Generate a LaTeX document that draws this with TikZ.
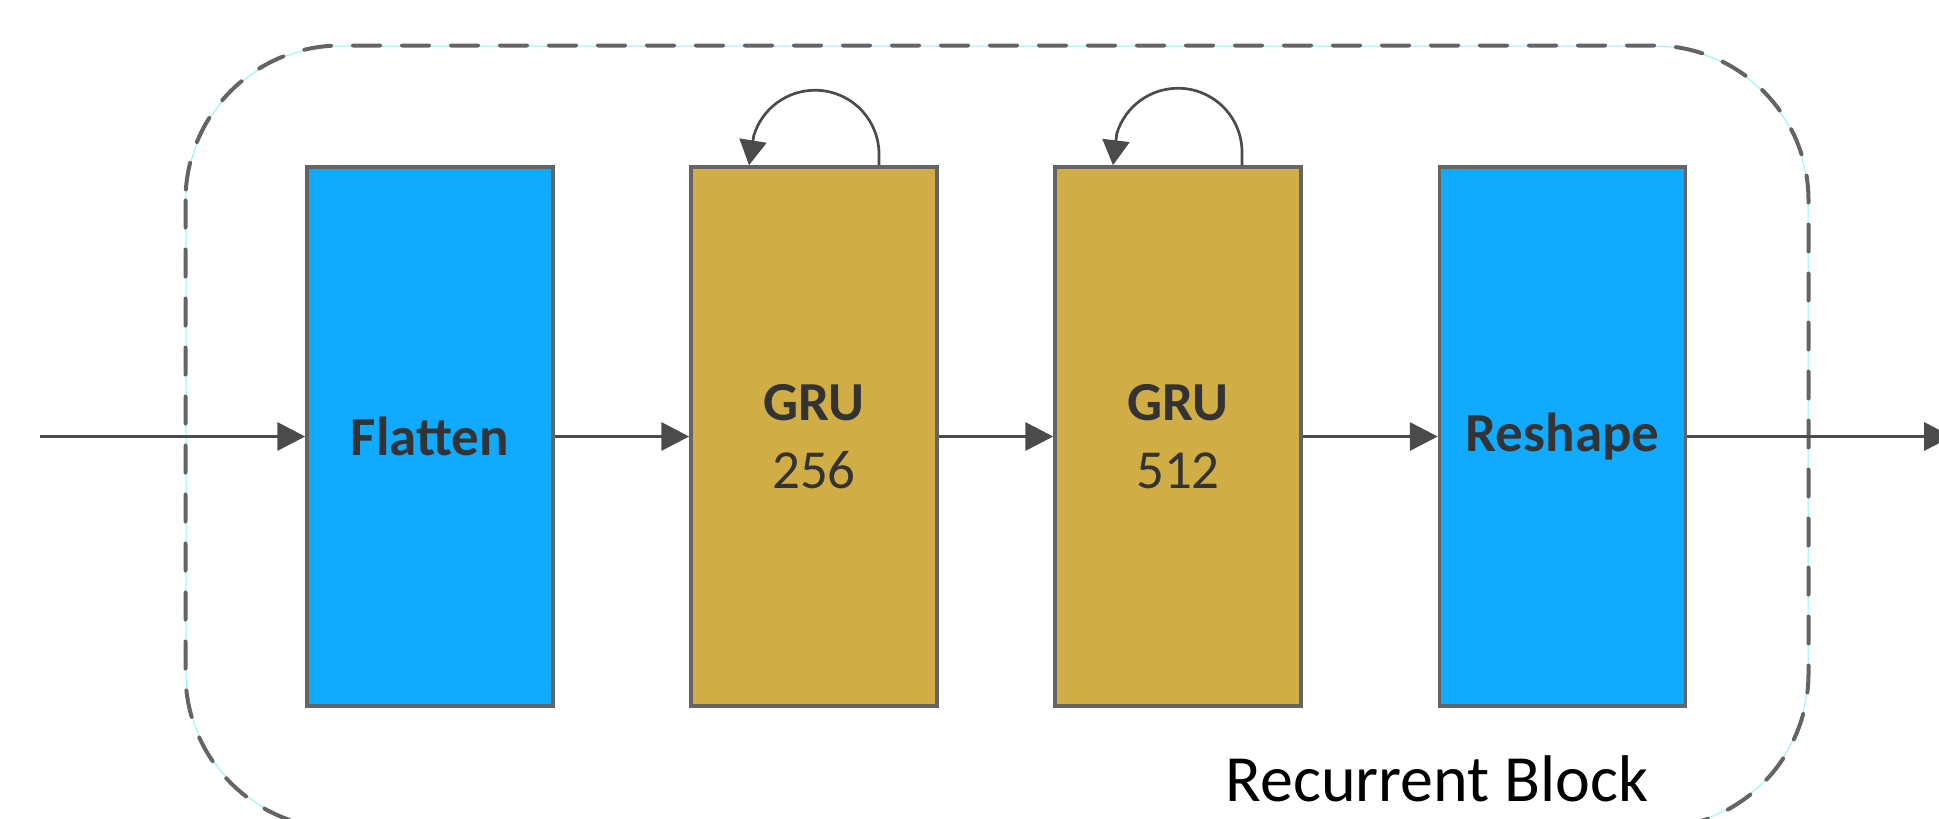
\documentclass[tikz,border=0pt]{standalone}
\usepackage{fontspec}
\setmainfont{Carlito}
\usetikzlibrary{arrows.meta}

\definecolor{layerblue}{HTML}{10AAFF}
\definecolor{grugold}{HTML}{D1AD46}
\definecolor{edgegray}{HTML}{646464}
\definecolor{arrowgray}{HTML}{4A4C4C}
\definecolor{labelgray}{HTML}{333333}
\definecolor{guidecyan}{HTML}{8FF5F5}

\begin{document}
\begin{tikzpicture}[x=1pt, y=-1pt,
  layer/.style={draw=edgegray, line width=3.5pt, minimum width=246pt,
    minimum height=539pt, inner sep=0pt, text=labelgray,
    font=\fontsize{55}{68}\selectfont, align=center},
  flow/.style={draw=arrowgray, line width=3.6pt,
    -{Triangle[length=28pt,width=28pt]}},
  recur/.style={draw=arrowgray, line width=2.7pt,
    -{Triangle[length=25pt,width=27pt]}},
  frame/.style={rounded corners=155pt, minimum width=1622pt,
    minimum height=782pt, inner sep=0pt},
]
\useasboundingbox (0,0) rectangle (1939,819);
\clip (0,0) rectangle (1939,819);

% dashed block outline with its thin guide line
\node (block) [frame, draw=guidecyan, line width=1pt] at (997,437) {};
\draw[edgegray, line width=4pt, dash pattern=on 27pt off 22pt,
  line cap=round, rounded corners=155pt]
  (block.north west) rectangle (block.south east);

% layers
\node (flat)  [layer, fill=layerblue] at (430,436.5)    {\bfseries Flatten};
\node (gru1)  [layer, fill=grugold]   at (814,436.5)    {{\bfseries GRU}\\256};
\node (gru2)  [layer, fill=grugold]   at (1178,436.5)   {{\bfseries GRU}\\512};
\node (resh)  [layer, fill=layerblue] at (1562.5,436.5) {\bfseries Reshape};

\coordinate (in)  at (40,436.5);
\coordinate (out) at (1952,436.5);

% data flow
\draw[flow] (in) -- (flat.west);
\draw[flow] (flat.east) -- (gru1.west);
\draw[flow] (gru1.east) -- (gru2.west);
\draw[flow] (gru2.east) -- (resh.west);
\draw[flow] (resh.east) -- (out);

% recurrent self-connections: a near-circular loop over each GRU layer
\draw[recur] ([xshift=65pt]gru1.north) -- ++(0,-11)
  arc[start angle=0, end angle=163, radius=64pt] -- ([xshift=-65pt]gru1.north);
\draw[recur] ([xshift=64pt]gru2.north) -- ++(0,-13)
  arc[start angle=0, end angle=163, radius=64pt] -- ([xshift=-65pt]gru2.north);

% block caption
\node (caption) [anchor=base, font=\fontsize{66}{70}\selectfont] at (1437,801) {Recurrent Block};
\end{tikzpicture}
\end{document}
